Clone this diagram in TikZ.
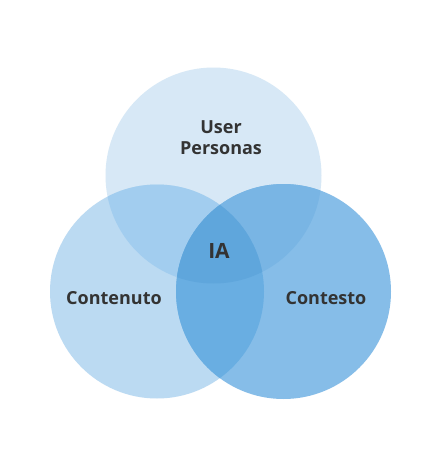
\documentclass[tikz,border=0pt]{standalone}
\usepackage{fontspec}
\setmainfont{Open Sans}
\usepackage{tikz}
\usetikzlibrary{positioning}
\definecolor{TopBlue}{HTML}{D7E8F6}
\definecolor{LeftBlue}{HTML}{BBDAF2}
\definecolor{RightBlue}{HTML}{86BDE8}
\definecolor{TopLeftBlue}{HTML}{A2CDEF}
\definecolor{TopRightBlue}{HTML}{79B5E4}
\definecolor{LeftRightBlue}{HTML}{69AEE2}
\definecolor{CoreBlue}{HTML}{5FA6DC}
\definecolor{LabelGray}{HTML}{333333}

\begin{document}
\begin{tikzpicture}[x=1pt,y=-1pt,
    label/.style={font=\fontsize{18}{21}\selectfont\bfseries,text=LabelGray,align=center,inner sep=0pt}]
      \useasboundingbox (0,0) rectangle (440,467);
      \fill[white] (0,0) rectangle (440,467);
      % the three sets
      \def\TopSet{(213.5,175.5) circle (108)}
      \def\LeftSet{(157,291.5) circle (107)}
      \def\RightSet{(283.5,291.5) circle (107.5)}
      \fill[TopBlue] \TopSet;
      \fill[LeftBlue] \LeftSet;
      \fill[RightBlue] \RightSet;
      % overlaps
      \begin{scope}\clip \TopSet; \fill[TopLeftBlue] \LeftSet; \end{scope}
      \begin{scope}\clip \TopSet; \fill[TopRightBlue] \RightSet; \end{scope}
      \begin{scope}\clip \LeftSet; \fill[LeftRightBlue] \RightSet; \end{scope}
      \begin{scope}\clip \TopSet; \clip \LeftSet; \fill[CoreBlue] \RightSet; \end{scope}
      % labels
      \node[label] (personas) at (221,138) {User\\Personas};
      \node[label] (contenuto) at (114,298) {Contenuto};
      \node[label] (contesto) at (326,298) {Contesto};
      \node[label,font=\fontsize{21}{24}\selectfont\bfseries] (ia) at (219,251) {IA};
    \end{tikzpicture}
\end{document}
